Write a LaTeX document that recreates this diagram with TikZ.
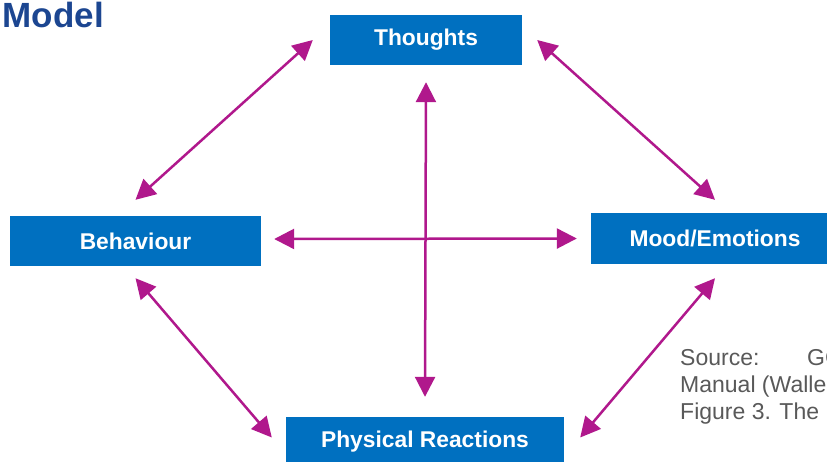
\documentclass[tikz,border=0pt]{standalone}
\usepackage{fontspec}
\setmainfont{Liberation Sans}
\usetikzlibrary{arrows.meta}
\definecolor{boxblue}{RGB}{0,112,192}
\definecolor{berry}{RGB}{176,24,140}
\definecolor{titleblue}{RGB}{28,70,145}
\definecolor{srcgray}{RGB}{89,89,89}
\begin{document}
\begin{tikzpicture}[x=1pt,y=-1pt,
  box/.style={fill=boxblue, text=white, font=\bfseries\fontsize{22.8}{27}\selectfont,
    inner sep=0pt, anchor=center},
  link/.style={draw=berry, line width=2.5pt,
    {Triangle[length=20pt,width=20pt]}-{Triangle[length=20pt,width=20pt]}},
  src/.style={text=srcgray, font=\fontsize{23}{27}\selectfont, inner sep=0pt, anchor=base west}]
\useasboundingbox (0,0) rectangle (827,461);
\clip (0,0) rectangle (827,461);
\fill[white] (0,0) rectangle (827,461);

% heading
\node[text=titleblue, font=\bfseries\fontsize{35}{40}\selectfont, inner sep=0pt,
  anchor=base east] (title) at (104,27) {Model};

% the four areas
\node[box, minimum width=192pt, minimum height=50pt] (thoughts) at (426,40) {Thoughts};
\node[box, minimum width=251pt, minimum height=50pt] (beh) at (135.5,241) {Behaviour};
\node[box, minimum width=248pt, minimum height=51pt] (mood) at (715,238.5) {Mood/Emotions};
\node[box, minimum width=278pt, minimum height=49pt] (phys) at (425,441.5) {Physical Reactions};

% two-way links
\draw[link] ([yshift=-17pt]thoughts.south) -- ([yshift=20pt]phys.north);
\draw[link] ([xshift=13pt,yshift=2pt]beh.east) -- ([xshift=-14pt]mood.west);
\draw[link] ([xshift=-17pt]thoughts.west) -- ([yshift=16pt]beh.north);
\draw[link] ([xshift=15pt]thoughts.east) -- ([yshift=13pt]mood.north);
\draw[link] ([yshift=-12pt]beh.south) -- ([xshift=-14pt,yshift=4pt]phys.west);
\draw[link] ([yshift=-14pt]mood.south) -- ([xshift=16pt,yshift=4pt]phys.east);

% source note
\node[src] (src1) at (680,365) {Source:};
\node[src] (src2) at (807,365) {GC};
\node[src] (src3) at (680,392) {Manual (Walle};
\node[src] (src4) at (680,419) {Figure 3. The};
\end{tikzpicture}
\end{document}
